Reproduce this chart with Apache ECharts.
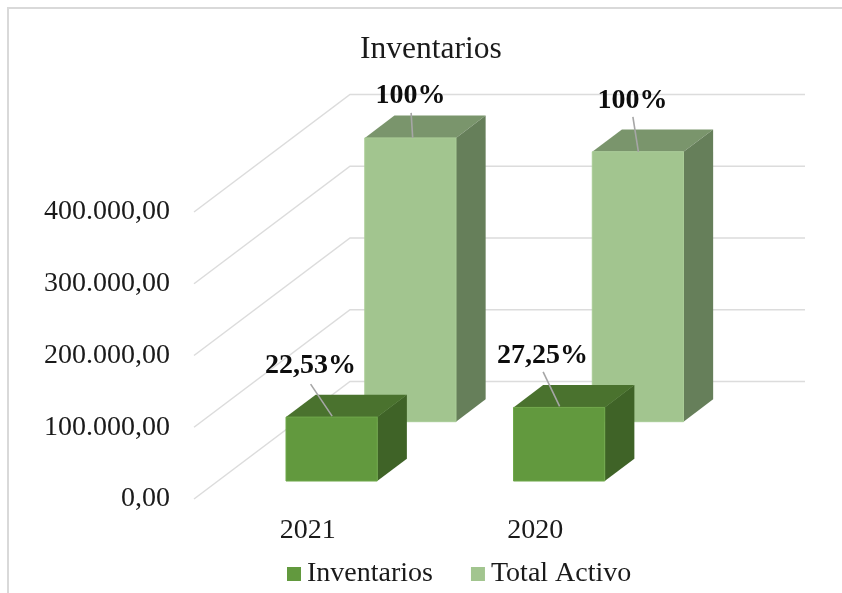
<!DOCTYPE html>
<html>
<head>
<meta charset="utf-8">
<script src="https://cdn.jsdelivr.net/npm/echarts@6/dist/echarts.min.js"></script>
<style>html,body{margin:0;padding:0;background:#fff}#c{width:842px;height:593px}</style>
</head>
<body>
<div id="c"></div>
<script>
const titleText = 'Inventarios';
const categories = ['2021', '2020'];
const inventarios = [89100, 102600];
const totalActivo = [395500, 376200];
const inventariosLabels = ['22,53%', '27,25%'];
const totalActivoLabels = ['100%', '100%'];
const yTicks = [0, 100000, 200000, 300000, 400000];
const yTickLabels = ['0,00', '100.000,00', '200.000,00', '300.000,00', '400.000,00'];

// Look of the 3D scene
const FONT = '"Liberation Serif", "Times New Roman", serif';
const wallDepth = [156, -117.5];
const barShare = 0.401;
const barDepth = 0.19;
const inventariosStyle = {depth: 0.153, front: '#62993e', top: '#4a722e', side: '#3f6327', edge: '#6fa84a',
  labelOffset: [[-21, -51], [-16.5, -52]], leader: [[[-21, -33], [0.5, -1]], [[-16, -35.5], [0.5, -1]]]};
const totalStyle = {depth: 0.658, front: '#a2c58f', top: '#7a956c', side: '#667f5a', edge: '#a9cc96',
  labelOffset: [[0, -42], [-5.5, -51]], leader: [[[0.7, -25], [2.3, 0]], [[-5, -35], [0.5, 0]]]};

function barRender(style, labels) {
  return function (params, api) {
    const i = params.dataIndex;
    const base = api.coord([api.value(0), 0]);
    const top = api.coord([api.value(0), api.value(1)]);
    const w = api.size([1, 0])[0] * barShare;
    const ox = wallDepth[0] * style.depth, oy = wallDepth[1] * style.depth;
    const dx = wallDepth[0] * barDepth, dy = wallDepth[1] * barDepth;
    const l = base[0] + ox - w / 2, r = l + w, t = top[1] + oy, b = base[1] + oy;
    const cx = base[0] + ox;
    const lo = style.labelOffset[i], ld = style.leader[i];
    const stroke = {stroke: style.edge, lineWidth: 1};
    return {type: 'group', children: [
      {type: 'polygon', shape: {points: [[l, t], [r, t], [r + dx, t + dy], [l + dx, t + dy]]}, style: {fill: style.top}},
      {type: 'polygon', shape: {points: [[r, t], [r + dx, t + dy], [r + dx, b + dy], [r, b]]}, style: {fill: style.side}},
      {type: 'rect', shape: {x: l, y: t, width: w, height: b - t}, style: Object.assign({fill: style.front}, stroke)},
      {type: 'line', shape: {x1: cx + ld[0][0], y1: t + ld[0][1], x2: cx + ld[1][0], y2: t + ld[1][1]}, style: {stroke: '#a6a6a6', lineWidth: 1.6}},
      {type: 'text', style: {text: labels[i], x: cx + lo[0], y: t + lo[1], align: 'center', verticalAlign: 'middle', fill: '#0d0d0d', font: 'bold 28px ' + FONT}}
    ]};
  };
}

function gridRender(params, api) {
  const sys = params.coordSys;
  const y = api.coord([0, api.value(1)])[1];
  const p0 = [sys.x, y], p1 = [sys.x + wallDepth[0], y + wallDepth[1]], p2 = [p1[0] + sys.width, p1[1]];
  return {type: 'polyline', shape: {points: [p0, p1, p2]}, style: {fill: 'none', stroke: '#dcdcdc', lineWidth: 1.5}};
}

const chart = echarts.init(document.getElementById('c'), null, {renderer: 'canvas'});
chart.setOption({
  backgroundColor: '#ffffff',
  animation: false,
  title: {text: titleText, left: 355, top: 29,
    textStyle: {fontFamily: FONT, fontSize: 31.5, fontWeight: 'normal', color: '#1a1a1a'}},
  grid: {left: 194, top: 212, width: 455, height: 287},
  legend: {data: ['Inventarios', 'Total Activo'], left: 282, top: 555, icon: 'rect', itemWidth: 14, itemHeight: 14,
    itemGap: 38, textStyle: {fontFamily: FONT, fontSize: 28, color: '#1a1a1a', padding: [0, 0, 0, 1]}},
  xAxis: {type: 'category', data: categories, axisLine: {show: false}, axisTick: {show: false}, splitLine: {show: false},
    axisLabel: {fontFamily: FONT, fontSize: 28, color: '#1a1a1a', margin: 18}},
  yAxis: {type: 'value', min: 0, max: 400000, interval: 100000, axisLine: {show: false}, axisTick: {show: false}, splitLine: {show: false},
    axisLabel: {fontFamily: FONT, fontSize: 28, color: '#1a1a1a', margin: 24, padding: [3, 0, 0, 0],
      formatter: function (v) { return yTickLabels[yTicks.indexOf(v)]; }}},
  graphic: [{type: 'polyline', silent: true, shape: {points: [[8, 593], [8, 8], [842, 8]]}, style: {fill: 'none', stroke: '#d9d9d9', lineWidth: 2}}],
  series: [
    {name: 'grid', type: 'custom', silent: true, renderItem: gridRender, data: yTicks.map(v => [0, v]), encode: {x: 0, y: 1}},
    {name: 'Total Activo', type: 'custom', silent: true, renderItem: barRender(totalStyle, totalActivoLabels), itemStyle: {color: totalStyle.front},
      data: categories.map((c, i) => [i, totalActivo[i]]), encode: {x: 0, y: 1}},
    {name: 'Inventarios', type: 'custom', silent: true, renderItem: barRender(inventariosStyle, inventariosLabels), itemStyle: {color: inventariosStyle.front},
      data: categories.map((c, i) => [i, inventarios[i]]), encode: {x: 0, y: 1}}
  ]
});
</script>
</body>
</html>
